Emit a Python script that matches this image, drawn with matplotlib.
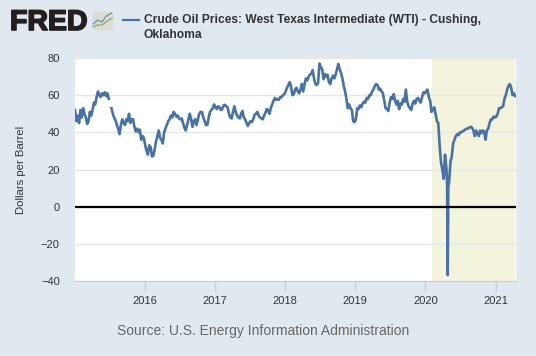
#!/usr/bin/env python
import matplotlib
matplotlib.use('Agg')
import matplotlib.pyplot as plt
import matplotlib.patheffects as pe
from matplotlib.patches import FancyBboxPatch
import numpy as np

plt.rcParams['font.family'] = ['Liberation Sans', 'DejaVu Sans']

nan = float('nan')
# precio semanal, un bloque por anio
oil_2015 = [52, 46, 49, 45, 52, 48, 53, 50, 48, 44.5, 46, 51, 49, 52, 56, 55, 59, 62, 60, 59, 61, 60, 61.5, 59.5, 61, 58,
            nan, 53, 50, 48, 46.5, 44, 42, 39, 44, 47, 45, 44, 47, 46, 50, 45, 47, 47, 43, 40.5, 42, 40, 41.5, 36, 38, 37]
oil_2016 = [33, 30, 28, 33, 32, 27, 27.5, 31, 35, 38, 41, 37, 36, 34, 40, 42, 44, 46, 47, 49, 48, 51, 50, 48.5, 49, 47.5,
            47, 47.5, 45, 42.5, 41, 44, 47, 50, 47, 43, 46, 47, 44, 47, 50, 51, 51, 48, 46, 44, 44, 48, 51, 52, 53, 55]
oil_2017 = [53.5, 52.5, 54, 53.5, 52, 52.5, 54.5, 54.8, 54, 53.5, 50, 48, 47.5, 51, 54, 51, 49, 48, 47.5, 50, 51.5, 48, 47,
            45, 43.5, 45, 46, 45.5, 47, 49.5, 50, 51, 49, 48, 47.5, 47, 49, 50.5, 52.5, 52, 50, 53, 55, 57, 58.5, 57.5, 58,
            57.5, 59, 59, 60, 60.5]
oil_2018 = [62, 64, 65.5, 67, 64.5, 60, 60.5, 63, 64, 62, 61, 63, 66, 62, 66, 69, 68, 70, 71, 71.5, 73.5, 69, 66, 65.5, 66.5,
            77, 75, 74, 68.6, 71.4, 70, 71, 67, 66, 69, 70.5, 69, 71, 74, 76.8, 74, 72, 69, 65, 62, 58, 53, 55, 53, 52, 46, 45.5]
oil_2019 = [47, 53, 52.5, 54.5, 53.5, 55.5, 56.5, 56, 58.5, 58, 60, 60, 62, 63, 65, 66, 65.5, 63, 63.5, 62, 61, 57, 53, 52.5,
            51.5, 56, 59, 58, 60.5, 57, 55, 57, 52.5, 55.5, 55, 58, 56.5, 63, 56.5, 54, 53, 52, 55.5, 57, 55.5, 58, 58.5, 57,
            56, 59, 61.5, 61]
oil_2020 = [62, 63, 59, 57, 51, 52, 53.5, 50, 46, 45, 33, 24, 20, 15, 28, 21, -36.8, 13, 24, 27, 34, 36, 38, 39, 38.5, 40, 40,
            40.5, 41, 41.5, 42, 42, 42.5, 43, 42.5, 41, 38, 41, 39, 38, 41, 39.5, 41, 40.5, 36, 41, 42, 45, 47, 47, 48.5, 48]
oil_2021 = [48.5, 50, 53, 53, 53.5, 54, 58, 60, 63, 65, 66, 64, 60, 61, 59.5]
# dias sueltos alrededor del minimo de abril 2020
spike_years = [2020.309, 2020.326]
spike_oil = [12, 11]

ytick_vals = [-40, -20, 0, 20, 40, 60, 80]
xtick_vals = [2016, 2017, 2018, 2019, 2020, 2021]
recession = (2020.09, 2021.28)

oil = oil_2015 + oil_2016 + oil_2017 + oil_2018 + oil_2019 + oil_2020 + oil_2021
years = 2015.01 + np.arange(len(oil)) / 52
all_years = np.concatenate([years, spike_years])
all_oil = np.concatenate([oil, spike_oil])
order = np.argsort(all_years)

W, H = 536, 356
bg = '#e1e9f0'
blue = '#4572a7'

fig = plt.figure(figsize=(W / 100, H / 100), dpi=100, facecolor=bg)
ax = fig.add_axes([75 / W, 1 - 281 / H, 441 / W, 223 / H])

ax.axvspan(recession[0], recession[1], color='#f4f4dc', lw=0, zorder=0)
ax.plot(all_years[order], all_oil[order], color=blue, lw=1.9, zorder=3, solid_joinstyle='round')
ax.axhline(0, color='black', lw=1.6, zorder=4)

ax.set_xlim(2015.01, 2021.29)
ax.set_ylim(-40, 80)
ax.set_yticks(ytick_vals)
ax.set_xticks(xtick_vals)
ax.grid(axis='y', color='#e6e6e6', lw=1)
ax.set_axisbelow(True)
for s in ['top', 'right', 'left']:
    ax.spines[s].set_visible(False)
ax.spines['bottom'].set_color('#c0d0e0')
ax.tick_params(axis='y', length=0, labelsize=8, labelcolor='#333333', pad=11)
ax.tick_params(axis='x', length=7, width=1, color='#c0d0e0', labelsize=8, labelcolor='#333333', pad=4)
ax.set_ylabel('Dollars per Barrel', fontsize=8.2, color='#333333')
ax.yaxis.set_label_coords((26 - 75) / 441, 0.5)

# encabezado
fig.text(10 / W, 1 - 30 / H, 'FRED', fontsize=20.5, fontweight='bold', color='#231f20', va='baseline',
         path_effects=[pe.withStroke(linewidth=1.2, foreground='#231f20')])
icon = fig.add_axes([92 / W, 1 - 31 / H, 22 / W, 20 / H])
icon.set_xlim(0, 1)
icon.set_ylim(0, 1)
icon.axis('off')
icon.add_patch(FancyBboxPatch((0.03, 0.03), 0.94, 0.94, boxstyle='round,pad=0,rounding_size=0.1', fc='#dcdcd6', ec='none'))
icon.plot([0.05, 0.25, 0.45, 0.65, 0.9], [0.35, 0.55, 0.45, 0.75, 0.9], color='#5b87ad', lw=0.8)
icon.plot([0.05, 0.25, 0.45, 0.7, 0.92], [0.2, 0.3, 0.3, 0.5, 0.65], color='#7fa650', lw=0.8)

fig.add_artist(plt.Line2D([123 / W, 139 / W], [1 - 20 / H, 1 - 20 / H], color=blue, lw=1.6))
fig.text(144 / W, 1 - 20 / H, 'Crude Oil Prices: West Texas Intermediate (WTI) - Cushing,', fontsize=8.65,
         fontweight='bold', color='#333333', va='center')
fig.text(144 / W, 1 - 35 / H, 'Oklahoma', fontsize=8.65, fontweight='bold', color='#333333', va='center')
fig.text(263 / W, 1 - 331 / H, 'Source: U.S. Energy Information Administration', fontsize=10, color='#666666',
         ha='center', va='center')

fig.savefig('out.png', dpi=100, facecolor=bg)
